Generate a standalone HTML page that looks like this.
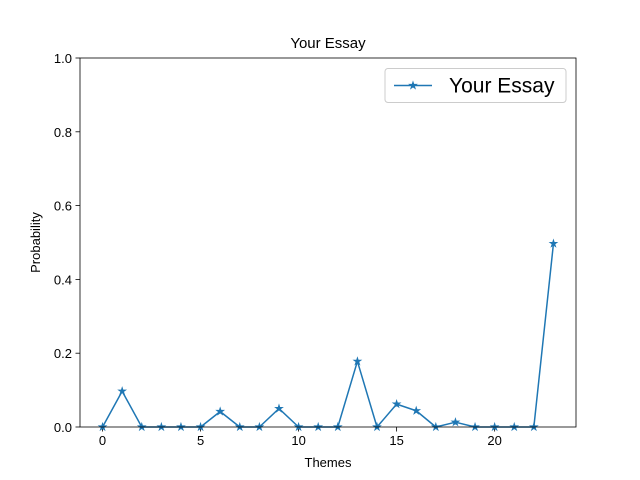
<!DOCTYPE html>
<html><head><meta charset="utf-8"><style>
body{margin:0;background:#fff}
svg{display:block;font-family:"Liberation Sans","DejaVu Sans",sans-serif}
</style></head><body>
<svg id="chart" width="640" height="480" viewBox="0 0 640 480">
<rect x="0" y="0" width="640" height="480" fill="#fff"/>
<g id="plot"></g>
</svg>
<script>
const themes = [0,1,2,3,4,5,6,7,8,9,10,11,12,13,14,15,16,17,18,19,20,21,22,23];
const probs = [0,0.097,0,0,0,0,0.042,0,0,0.05,0,0,0,0.178,0,0.062,0.044,0,0.013,0,0,0,0,0.497];
const xTicks = [0,5,10,15,20];
const yTicks = [0,0.2,0.4,0.6,0.8,1.0];
const yTickLabels = ["0.0","0.2","0.4","0.6","0.8","1.0"];

const L=80,R=576,T=58,B=427;
const xmin=-1.15,xmax=24.15;
const X=v=>L+(v-xmin)/(xmax-xmin)*(R-L);
const Y=v=>B-(v-0)/(1-0)*(B-T);
const NS="http://www.w3.org/2000/svg";
const g=document.getElementById('plot');
function mk(tag,attrs,parent){const e=document.createElementNS(NS,tag);for(const k in attrs)e.setAttribute(k,attrs[k]);(parent||g).appendChild(e);return e;}

const title=mk('text',{x:(L+R)/2,y:48,'text-anchor':'middle','font-size':15,fill:'#000'});
title.textContent='Your Essay';



xTicks.forEach(t=>{
  const x=X(t);
  const tk=mk('line',{x1:x,x2:x,y1:B,y2:B+4.5,stroke:'#000','stroke-width':0.8});
  
  
  const lb=mk('text',{x:x,y:B+18,'text-anchor':'middle','font-size':13,fill:'#000'});
  lb.textContent=t;
  
  
});
yTicks.forEach((t,i)=>{
  const y=Y(t);
  const tk=mk('line',{x1:L-4.5,x2:L,y1:y,y2:y,stroke:'#000','stroke-width':0.8});
  
  
  const lb=mk('text',{x:L-8,y:y+5,'text-anchor':'end','font-size':13,fill:'#000'});
  lb.textContent=yTickLabels[i];
  
  
});
const xl=mk('text',{x:(L+R)/2,y:467,'text-anchor':'middle','font-size':13,fill:'#000'});
xl.textContent='Themes';


const yl=mk('text',{x:40,y:(T+B)/2,'text-anchor':'middle','font-size':13,fill:'#000',transform:`rotate(-90 40 ${(T+B)/2})`});
yl.textContent='Probability';



const pts=themes.map((t,i)=>X(t)+','+Y(probs[i])).join(' ');
const line=mk('polyline',{points:pts,fill:'none',stroke:'#1f77b4','stroke-width':1.5,'stroke-linejoin':'round'});



function star(cx,cy,r,parent){
  let p=[];
  for(let k=0;k<10;k++){const a=-Math.PI/2+k*Math.PI/5;const rr=k%2?r*0.38:r;p.push((cx+rr*Math.cos(a)).toFixed(2)+','+(cy+rr*Math.sin(a)).toFixed(2));}
  return mk('polygon',{points:p.join(' '),fill:'#1f77b4',stroke:'#1f77b4','stroke-width':1},parent);
}
themes.forEach((t,i)=>{
  const s=star(X(t),Y(probs[i]),3.5);
  
  
});

const frame=mk('rect',{x:L,y:T,width:R-L,height:B-T,fill:'none',stroke:'#000','stroke-width':0.8});



const lg=mk('g',{});


mk('rect',{x:385,y:68.5,width:181,height:34,rx:3,fill:'#fff','fill-opacity':0.8,stroke:'#ccc','stroke-width':1},lg);
mk('line',{x1:394,x2:432,y1:85.5,y2:85.5,stroke:'#1f77b4','stroke-width':1.5},lg);
star(413,85.5,3.5,lg);
const lt=mk('text',{x:449,y:92.5,'font-size':21,fill:'#000'},lg);
lt.textContent='Your Essay';


</script>
</body></html>
